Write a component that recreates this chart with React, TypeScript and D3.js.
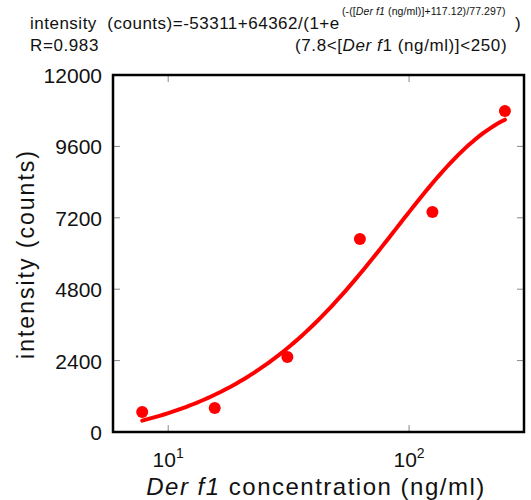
import React from "react";
import * as d3 from "d3";

const concentrations = [7.8, 15.6, 31.25, 62.5, 125, 250];
const intensities = [672, 807, 2521, 6487, 7395, 10790];
const yTicks = [0, 2400, 4800, 7200, 9600, 12000];
const xTickExps = [1, 2];
const fitA = -53311;
const fitB = 64362;
const fitC = 117.12;
const fitD = 77.297;
const fitRange = [7.8, 250];

const W = 531, H = 500;
const m = { left: 113, right: 524, top: 75, bottom: 432 };

export default function App() {
  const x = d3.scaleLog().domain([5.9, 300]).range([m.left, m.right]);
  const y = d3.scaleLinear().domain([0, 12000]).range([m.bottom, m.top]);
  const fit = (c: number) => fitA + fitB / (1 + Math.exp(-(c + fitC) / fitD));
  const samples = d3.range(0, 101).map((i) =>
    Math.exp(Math.log(fitRange[0]) + (Math.log(fitRange[1]) - Math.log(fitRange[0])) * (i / 100))
  );
  const line = d3.line<number>().x((c) => x(c)).y((c) => y(fit(c))).curve(d3.curveLinear);
  const font = "'Liberation Sans', Arial, sans-serif";
  return (
    <svg width={W} height={H} style={{ position: "absolute", left: 0, top: 0, background: "#fff" }} fontFamily={font}>
      <text x={30} y={29} fontSize={17} letterSpacing={0.5} fill="#111" style={{ whiteSpace: "pre" }}>
        {"intensity  (counts)=-53311+64362/(1+e"}
      </text>
      <text x={342} y={15} fontSize={10.5} letterSpacing={0.1} fill="#111">
        (-([<tspan fontStyle="italic">Der f1</tspan> (ng/ml)]+117.12)/77.297)
      </text>
      <text x={515} y={29} fontSize={17} fill="#111">)</text>
      <text x={30} y={51} fontSize={17} letterSpacing={0.6} fill="#111">R=0.983</text>
      <text x={295} y={51} fontSize={17} letterSpacing={0.6} fill="#111">
        (7.8&lt;[<tspan fontStyle="italic">Der f</tspan>1 (ng/ml)]&lt;250)
      </text>
      {yTicks.map((t) => (
        <g key={t}>
          <line x1={m.left} x2={m.left + 7} y1={y(t)} y2={y(t)} stroke="#888" strokeWidth={1} />
          <line x1={m.right - 7} x2={m.right} y1={y(t)} y2={y(t)} stroke="#888" strokeWidth={1} />
          <text x={102} y={y(t) + 8} fontSize={21} textAnchor="end" fill="#111">{t}</text>
        </g>
      ))}
      {xTickExps.map((e) => {
        const v = Math.pow(10, e);
        return (
          <g key={e}>
            <line x1={x(v)} x2={x(v)} y1={m.bottom} y2={m.bottom - 7} stroke="#888" strokeWidth={1} />
            <line x1={x(v)} x2={x(v)} y1={m.top} y2={m.top + 7} stroke="#888" strokeWidth={1} />
            <text x={x(v)} y={467} fontSize={21} textAnchor="middle" fill="#111">
              10<tspan fontSize={14} dy={-9}>{e}</tspan>
            </text>
          </g>
        );
      })}
      <rect x={m.left} y={m.top} width={m.right - m.left} height={m.bottom - m.top} fill="none" stroke="#000" strokeWidth={2.5} />
      <path d={line(samples) || ""} fill="none" stroke="#ff0000" strokeWidth={4} strokeLinecap="round" />
      {concentrations.map((c, i) => (
        <circle key={i} cx={x(c)} cy={y(intensities[i])} r={6} fill="#ff0000" />
      ))}
      <text transform={`translate(34,254) rotate(-90)`} fontSize={23} letterSpacing={2} textAnchor="middle" fill="#111">
        intensity (counts)
      </text>
      <text x={316} y={495} fontSize={24} letterSpacing={1.5} textAnchor="middle" fill="#111">
        <tspan fontStyle="italic">Der f1</tspan> concentration (ng/ml)
      </text>
    </svg>
  );
}
